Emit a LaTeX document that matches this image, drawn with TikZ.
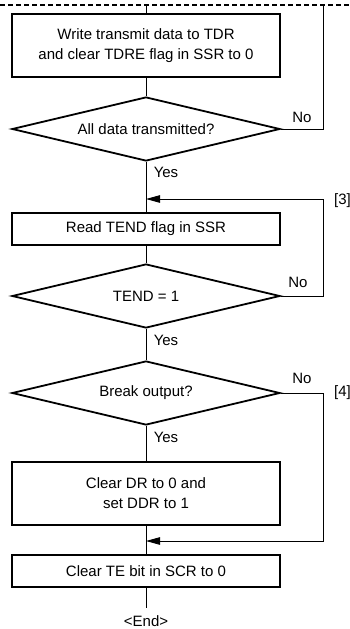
\documentclass[tikz,border=0pt]{standalone}
\usepackage{fontspec}
\setmainfont{Liberation Sans}
\usetikzlibrary{shapes.geometric,arrows.meta}
\begin{document}
\begin{tikzpicture}[x=1pt,y=-1pt,
  every node/.style={font=\fontsize{15}{20}\selectfont},
  procbox/.style={draw,line width=1.8pt,minimum width=268pt,inner sep=0pt,align=center},
  decis/.style={draw,line width=1.8pt,shape=diamond,shape aspect=4.1875,minimum width=268pt,minimum height=64pt,inner sep=0pt},
  conn/.style={line width=0.9pt},
  arr/.style={line width=0.9pt,-{Triangle[length=14pt,width=7.5pt]}},
  lbl/.style={inner sep=0pt}]
\useasboundingbox (0,0) rectangle (350,629);
% dashed boundary
\coordinate (dl) at (0,5);
\coordinate (dr) at (350,5);
\draw[line width=1.6pt,dash pattern=on 4.5pt off 3.5pt] (dl) -- (dr);
\coordinate (top) at (146,5);
\coordinate (r1) at (323,5);
\coordinate (r2) at (323,199);
\coordinate (j2) at (146,199);
\coordinate (r3) at (323,541);
\coordinate (j3) at (146,541);
\coordinate (endc) at (146,608);
% nodes
\node[procbox,minimum height=63pt] (b1) at (146,45.5) {Write transmit data to TDR\\and clear TDRE flag in SSR to 0};
\node[decis] (d1) at (146,129) {All data transmitted?};
\node[procbox,minimum height=32pt] (b2) at (146,229) {Read TEND flag in SSR};
\node[decis] (d2) at (146,296) {TEND = 1};
\node[decis] (d3) at (146,393) {Break output?};
\node[procbox,minimum height=63pt] (b3) at (146,493.5) {Clear DR to 0 and\\set DDR to 1};
\node[procbox,minimum height=32pt] (b4) at (146,571) {Clear TE bit in SCR to 0};
\node[lbl] (endn) at (146,621) {<End>};
% labels
\node[lbl] (no1) at (302,117) {No};
\node[lbl] (yes1) at (166,172) {Yes};
\node[lbl,anchor=west] (l3) at (334,201) {[3]};
\node[lbl] (no2) at (298,282) {No};
\node[lbl] (yes2) at (166,340) {Yes};
\node[lbl] (no3) at (302,378) {No};
\node[lbl,anchor=west] (l4) at (334,393) {[4]};
\node[lbl] (yes3) at (166,437) {Yes};
% connectors
\draw[conn] (top) -- (b1.north);
\draw[conn] (b1.south) -- (d1.north);
\draw[conn] (d1.east) -| (r1);
\draw[conn] (d1.south) -- (b2.north);
\draw[arr] (d2.east) -| (r2) -- (j2);
\draw[conn] (b2.south) -- (d2.north);
\draw[conn] (d2.south) -- (d3.north);
\draw[conn] (d3.south) -- (b3.north);
\draw[arr] (d3.east) -| (r3) -- (j3);
\draw[conn] (b3.south) -- (b4.north);
\draw[conn] (b4.south) -- (endc);
\end{tikzpicture}
\end{document}
